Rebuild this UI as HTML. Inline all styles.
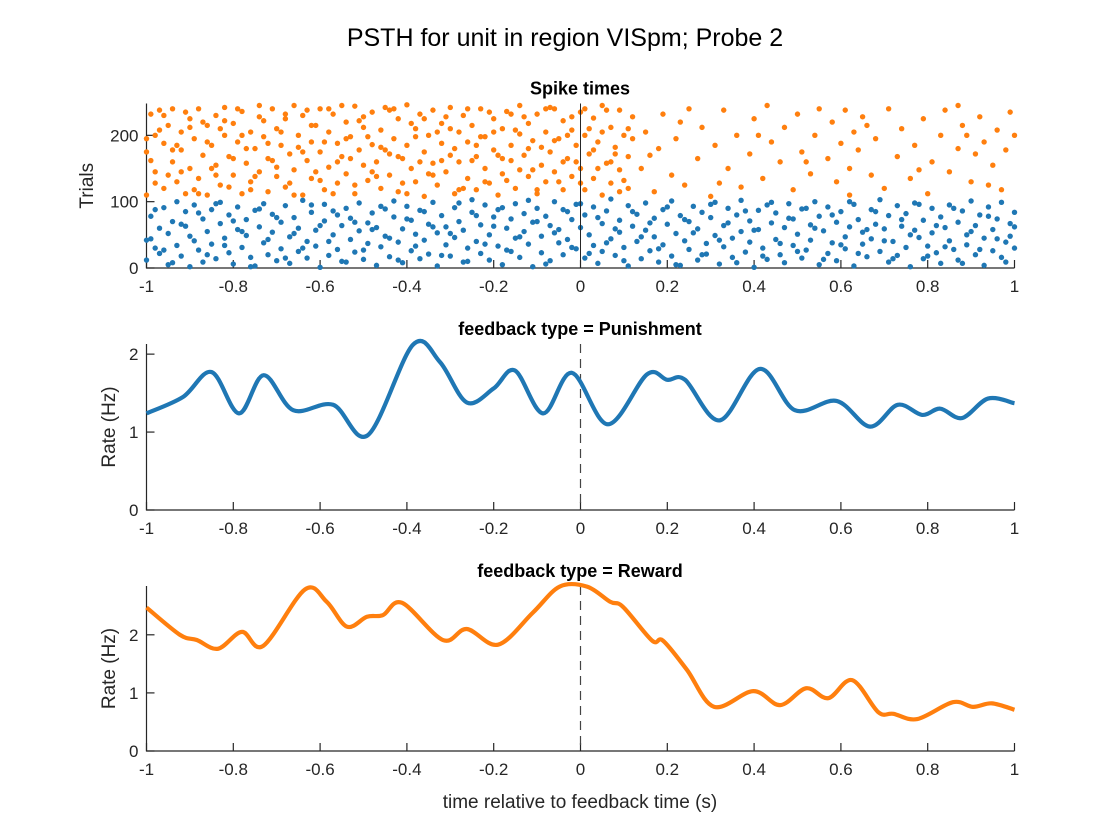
<!DOCTYPE html>
<html><head><meta charset="utf-8"><style>
body{margin:0;background:#fff;}
svg{display:block;font-family:"Liberation Sans",Arial,sans-serif;}
</style></head><body>
<svg id="fig" width="1120" height="840" viewBox="0 0 1120 840">
<text x="565" y="46" text-anchor="middle" font-size="25" fill="#000">PSTH for unit in region VISpm; Probe 2</text>
<g id="p1"></g>
<g id="p2"></g>
<g id="p3"></g>
<text x="580" y="808" text-anchor="middle" font-size="19" fill="#262626">time relative to feedback time (s)</text>
</svg>
<script>
const xTicks=[-1,-0.8,-0.6,-0.4,-0.2,0,0.2,0.4,0.6,0.8,1];
const xTickLabels=["-1","-0.8","-0.6","-0.4","-0.2","0","0.2","0.4","0.6","0.8","1"];
const rasterYTicks=[0,100,200];
const rateYTicks=[0,1,2];
const punishT=[-1,-0.916,-0.85,-0.787,-0.73,-0.662,-0.57,-0.49,-0.386,-0.324,-0.262,-0.2,-0.151,-0.086,-0.02,0.063,0.153,0.2,0.241,0.321,0.413,0.494,0.59,0.667,0.731,0.787,0.829,0.879,0.939,1];
const punishRate=[1.24,1.45,1.77,1.24,1.73,1.28,1.35,0.96,2.12,1.90,1.38,1.56,1.79,1.24,1.76,1.10,1.74,1.67,1.67,1.15,1.81,1.28,1.40,1.07,1.35,1.22,1.30,1.18,1.43,1.37];
const rewardT=[-1,-0.923,-0.884,-0.835,-0.78,-0.731,-0.635,-0.585,-0.538,-0.492,-0.455,-0.411,-0.317,-0.262,-0.19,-0.11,-0.048,0.015,0.068,0.098,0.165,0.19,0.245,0.308,0.398,0.46,0.52,0.571,0.626,0.686,0.721,0.776,0.858,0.904,0.948,1];
const rewardRate=[2.47,2.0,1.91,1.76,2.05,1.81,2.78,2.57,2.14,2.31,2.34,2.55,1.91,2.10,1.83,2.38,2.83,2.83,2.57,2.48,1.90,1.90,1.40,0.76,1.03,0.79,1.08,0.91,1.22,0.67,0.64,0.55,0.84,0.76,0.82,0.71];
// spikes: pairs [time in 1/100 s, trial]
const blueSpikes=[-100,12,-99,78,-99,44,-98,30,-97,60,-97,22,-96,91,-95,5,-95,52,-94,70,-93,34,-93,100,-92,18,-91,85,-91,63,-90,2,-89,41,-89,95,-88,27,-87,74,-87,9,-86,55,-85,88,-85,36,-84,14,-83,67,-83,99,-82,45,-81,23,-81,80,-80,6,-79,58,-79,92,-78,31,-77,73,-77,49,-76,16,-75,87,-75,3,-74,62,-73,38,-73,97,-72,20,-71,81,-71,54,-70,11,-69,69,-69,29,-68,94,-67,47,-67,7,-66,76,-65,25,-65,60,-64,102,-63,40,-63,15,-62,84,-61,57,-61,33,-60,1,-59,71,-59,96,-58,19,-57,50,-57,86,-56,28,-55,64,-55,10,-54,90,-53,43,-53,75,-52,24,-51,98,-51,56,-50,13,-49,68,-49,37,-48,83,-47,4,-47,61,-46,32,-45,89,-45,48,-44,17,-43,77,-43,101,-42,39,-41,59,-41,8,-40,93,-39,26,-39,72,-38,51,-37,14,-37,87,-36,42,-35,66,-35,21,-34,99,-33,53,-33,3,-32,79,-31,35,-31,62,-30,18,-29,91,-29,46,-28,70,-27,9,-27,57,-26,30,-25,84,-25,103,-24,40,-23,65,-23,22,-22,95,-21,12,-21,50,-20,77,-19,33,-19,88,-18,5,-17,60,-17,27,-16,74,-15,45,-15,97,-14,16,-13,82,-13,55,-12,36,-11,69,-11,2,-10,90,-9,48,-9,23,-8,78,-7,64,-7,11,-6,100,-5,38,-5,58,-4,20,-3,85,-3,43,-2,73,-1,29,-1,96,0,61,1,15,1,80,2,50,3,34,3,92,4,7,5,67,5,25,6,86,7,44,7,104,8,19,9,72,9,54,10,31,11,94,11,3,12,63,13,40,13,81,14,14,15,57,15,98,16,26,17,75,17,47,18,9,19,88,19,35,20,66,21,18,21,101,22,52,23,79,23,4,24,41,25,70,25,28,26,93,27,12,27,59,28,84,29,37,29,21,30,76,31,49,31,99,32,6,33,64,33,32,34,90,35,45,35,16,36,80,37,55,37,102,38,24,39,71,39,39,40,1,41,87,41,58,42,30,43,95,43,13,44,68,45,43,45,83,46,20,47,61,47,8,48,97,49,34,49,74,50,51,51,15,51,89,52,27,53,65,53,42,54,100,55,5,55,78,56,56,57,22,57,92,58,38,59,69,59,11,60,85,61,47,61,29,62,62,63,96,63,3,64,73,65,36,65,54,66,17,67,88,67,44,68,66,69,25,69,103,70,59,71,9,71,79,72,40,73,94,73,19,74,63,75,31,75,82,76,2,77,57,77,98,78,46,79,14,79,72,80,33,81,90,81,53,82,23,83,77,83,7,84,61,85,41,85,95,86,28,87,69,87,12,88,86,89,50,89,35,90,101,91,20,91,64,92,80,93,4,93,45,94,92,95,26,95,58,96,74,97,16,97,99,98,39,99,67,99,48,100,84,100,30];
const blueSpikesB=[-100,42,-98,88,-96,27,-94,8,-92,66,-90,48,-88,83,-86,20,-84,97,-82,34,-80,71,-78,55,-76,2,-74,89,-72,43,-70,76,-68,15,-66,52,-64,30,-62,95,-60,64,-58,40,-56,80,-54,9,-52,69,-50,27,-48,58,-46,93,-44,45,-42,12,-40,74,-38,33,-36,85,-34,62,-32,19,-30,52,-28,98,-26,10,-24,79,-22,36,-20,63,-18,91,-16,25,-14,47,-12,102,-10,70,-8,6,-6,53,-4,88,-2,31,0,97,2,22,4,76,6,38,8,59,10,11,12,85,14,47,16,68,18,29,20,92,22,5,24,73,26,53,28,20,30,96,32,42,34,68,36,8,38,86,40,57,42,18,44,99,46,37,48,75,50,25,52,90,54,60,56,13,58,80,60,35,62,100,64,22,66,58,68,85,70,41,72,14,74,73,76,50,78,96,80,18,82,64,84,32,86,90,88,7,90,55,92,28,94,78,96,44,98,9,100,62];
const orangeSpikes=[-100,110,-100,175,-99,232,-98,200,-98,145,-97,238,-96,120,-96,188,-95,215,-94,160,-94,240,-93,130,-92,205,-92,178,-91,112,-90,225,-90,150,-89,195,-88,240,-88,135,-87,170,-86,215,-86,110,-85,185,-84,230,-84,155,-83,125,-82,200,-82,242,-81,168,-80,140,-80,218,-79,190,-78,112,-78,236,-77,158,-76,205,-76,130,-75,180,-74,228,-74,145,-73,198,-72,115,-72,165,-71,240,-70,210,-70,138,-69,185,-68,225,-68,122,-67,172,-66,245,-66,148,-65,200,-64,110,-64,230,-63,162,-62,190,-62,135,-61,215,-60,240,-60,175,-59,118,-58,205,-58,152,-57,232,-56,188,-56,128,-55,168,-54,220,-54,142,-53,198,-52,112,-52,244,-51,178,-50,155,-50,212,-49,132,-48,235,-48,186,-47,160,-46,120,-46,208,-45,242,-44,172,-44,140,-43,195,-42,225,-42,115,-41,165,-40,246,-40,185,-39,150,-38,210,-38,130,-37,232,-36,175,-36,108,-35,200,-34,158,-34,238,-33,125,-32,188,-32,218,-31,145,-30,170,-30,242,-29,112,-28,205,-28,160,-27,230,-26,135,-26,190,-25,215,-24,118,-24,168,-23,240,-22,150,-22,198,-21,128,-20,225,-20,178,-19,110,-18,210,-18,142,-17,236,-16,185,-16,162,-15,120,-14,202,-14,245,-13,170,-12,138,-12,218,-11,192,-10,112,-10,232,-9,155,-8,205,-8,130,-7,175,-6,240,-6,145,-5,195,-4,118,-4,222,-3,165,-2,208,-2,138,-1,185,0,235,0,150,1,118,1,200,2,172,3,226,3,135,4,190,5,110,5,245,6,158,7,212,7,128,8,182,9,238,9,148,10,200,11,120,11,168,12,228,
-99,162,-97,208,-95,140,-93,185,-91,235,-89,118,-87,220,-85,150,-83,210,-81,122,-79,240,-77,180,-75,138,-73,222,-71,162,-69,205,-67,128,-65,182,-63,238,-61,145,-59,190,-57,112,-55,245,-53,165,-51,222,-49,198,-47,138,-45,178,-43,240,-41,128,-39,218,-37,160,-35,142,-33,205,-31,228,-29,180,-27,120,-25,162,-23,198,-21,235,-19,170,-17,132,-15,208,-13,228,-11,148,-9,182,-7,242,-5,130,-3,200,-1,160,1,240,3,178,5,205,7,160,9,115,11,210,
14,150,15,205,17,115,18,180,19,232,21,140,22,195,24,125,25,240,27,165,28,212,30,108,31,185,33,238,34,150,36,200,37,122,39,172,40,225,42,135,43,245,44,190,46,160,47,212,49,118,50,232,51,175,53,142,54,200,55,240,57,165,58,220,59,130,60,188,61,238,62,150,62,110,63,205,64,178,65,228,67,140,68,195,70,120,71,240,73,168,74,210,76,135,77,185,79,225,80,112,81,160,83,200,84,238,85,145,87,180,87,245,88,215,90,130,91,172,92,228,93,190,95,155,96,208,97,118,98,178,99,235,100,200];
const orangeSpikesB=[-100,195,-98,128,-96,230,-94,178,-92,145,-90,212,-88,112,-86,190,-84,140,-82,222,-80,165,-78,200,-76,118,-74,245,-72,188,-70,152,-68,232,-66,110,-64,175,-62,215,-60,132,-58,240,-56,160,-54,195,-52,125,-50,228,-48,145,-46,182,-44,238,-42,168,-40,112,-38,198,-36,225,-34,140,-32,162,-30,210,-28,118,-26,240,-24,185,-22,130,-20,205,-18,165,-16,232,-14,148,-12,180,-10,118,-8,240,-6,192,-4,160,-2,228,0,128,2,210,4,150,6,238,8,172,10,132,12,195,16,170,23,220,32,128,41,200,52,160,66,215,78,148,89,200,94,125];

const NS="http://www.w3.org/2000/svg";
const X0=146.5,X1=1014.5;
const xs=t=>X0+(t+1)/2*(X1-X0);
function mk(parent,tag,attrs){const e=document.createElementNS(NS,tag);for(const k in attrs)e.setAttribute(k,attrs[k]);parent.appendChild(e);return e;}

function axes(g,top,bottom,ymax,yTicks,yLabel,title,ylabX){
  const ys=v=>bottom-v/ymax*(bottom-top);
  const ax=mk(g,'path',{d:`M${X0},${top}V${bottom}H${X1}`,fill:'none',stroke:'#262626','stroke-width':1.2});
  
  
  xTicks.forEach((t,i)=>{
    const x=xs(t);
    const tk=mk(g,'line',{x1:x,x2:x,y1:bottom,y2:bottom-8,stroke:'#262626','stroke-width':1.2});
    
    
    const tl=mk(g,'text',{x:x,y:bottom+24,'text-anchor':'middle','font-size':17,fill:'#262626'});
    tl.textContent=xTickLabels[i];
    
    
  });
  yTicks.forEach(v=>{
    const y=ys(v);
    const tk=mk(g,'line',{x1:X0,x2:X0+8,y1:y,y2:y,stroke:'#262626','stroke-width':1.2});
    
    
    const tl=mk(g,'text',{x:X0-8,y:y+6,'text-anchor':'end','font-size':17,fill:'#262626'});
    tl.textContent=String(v);
    
    
  });
  const yl=mk(g,'text',{x:ylabX,y:(top+bottom)/2,'text-anchor':'middle','font-size':19,fill:'#262626',transform:`rotate(-90 ${ylabX} ${(top+bottom)/2})`});
  yl.textContent=yLabel;
  
  
  const tt=mk(g,'text',{x:580,y:top-9,'text-anchor':'middle','font-size':18,'font-weight':'bold',fill:'#000'});
  tt.textContent=title;
  
  
  return ys;
}

function smoothPath(ts,vs,ys){
  const P=ts.map((t,i)=>[xs(t),ys(vs[i])]);
  let d=`M${P[0][0]},${P[0][1]}`;
  for(let i=0;i<P.length-1;i++){
    const p0=P[Math.max(0,i-1)],p1=P[i],p2=P[i+1],p3=P[Math.min(P.length-1,i+2)];
    const c1=[p1[0]+(p2[0]-p0[0])/6,p1[1]+(p2[1]-p0[1])/6];
    const c2=[p2[0]-(p3[0]-p1[0])/6,p2[1]-(p3[1]-p1[1])/6];
    d+=`C${c1[0]},${c1[1]} ${c2[0]},${c2[1]} ${p2[0]},${p2[1]}`;
  }
  return d;
}

// Panel 1: raster
const g1=document.getElementById('p1');
const ys1=axes(g1,103.5,268,248,rasterYTicks,'Trials','Spike times',93);
function dots(arr,color,name){
  for(let i=0;i<arr.length;i+=2){
    const c=mk(g1,'circle',{cx:xs(arr[i]/100),cy:ys1(arr[i+1]),r:2.7,fill:color});
    
    
  }
}
dots(blueSpikes,'#1f77b4','punishment-spike');
dots(blueSpikesB,'#1f77b4','punishment-spike');
dots(orangeSpikes,'#ff7f0e','reward-spike');
dots(orangeSpikesB,'#ff7f0e','reward-spike');
const z1=mk(g1,'line',{x1:xs(0),x2:xs(0),y1:103.5,y2:268,stroke:'#262626','stroke-width':1});



// Panel 2
const g2=document.getElementById('p2');
const ys2=axes(g2,344,510,2.13,rateYTicks,'Rate (Hz)','feedback type = Punishment',115);
const d2=mk(g2,'line',{x1:xs(0),x2:xs(0),y1:344,y2:510,stroke:'#444','stroke-width':1.2,'stroke-dasharray':'9,6'});


const l2=mk(g2,'path',{d:smoothPath(punishT,punishRate,ys2),fill:'none',stroke:'#1f77b4','stroke-width':4.2,'stroke-linejoin':'round'});



// Panel 3
const g3=document.getElementById('p3');
const ys3=axes(g3,586,751,2.84,rateYTicks,'Rate (Hz)','feedback type = Reward',115);
const d3=mk(g3,'line',{x1:xs(0),x2:xs(0),y1:586,y2:751,stroke:'#444','stroke-width':1.2,'stroke-dasharray':'9,6'});


const l3=mk(g3,'path',{d:smoothPath(rewardT,rewardRate,ys3),fill:'none',stroke:'#ff7f0e','stroke-width':4.2,'stroke-linejoin':'round'});


</script>
</body></html>
